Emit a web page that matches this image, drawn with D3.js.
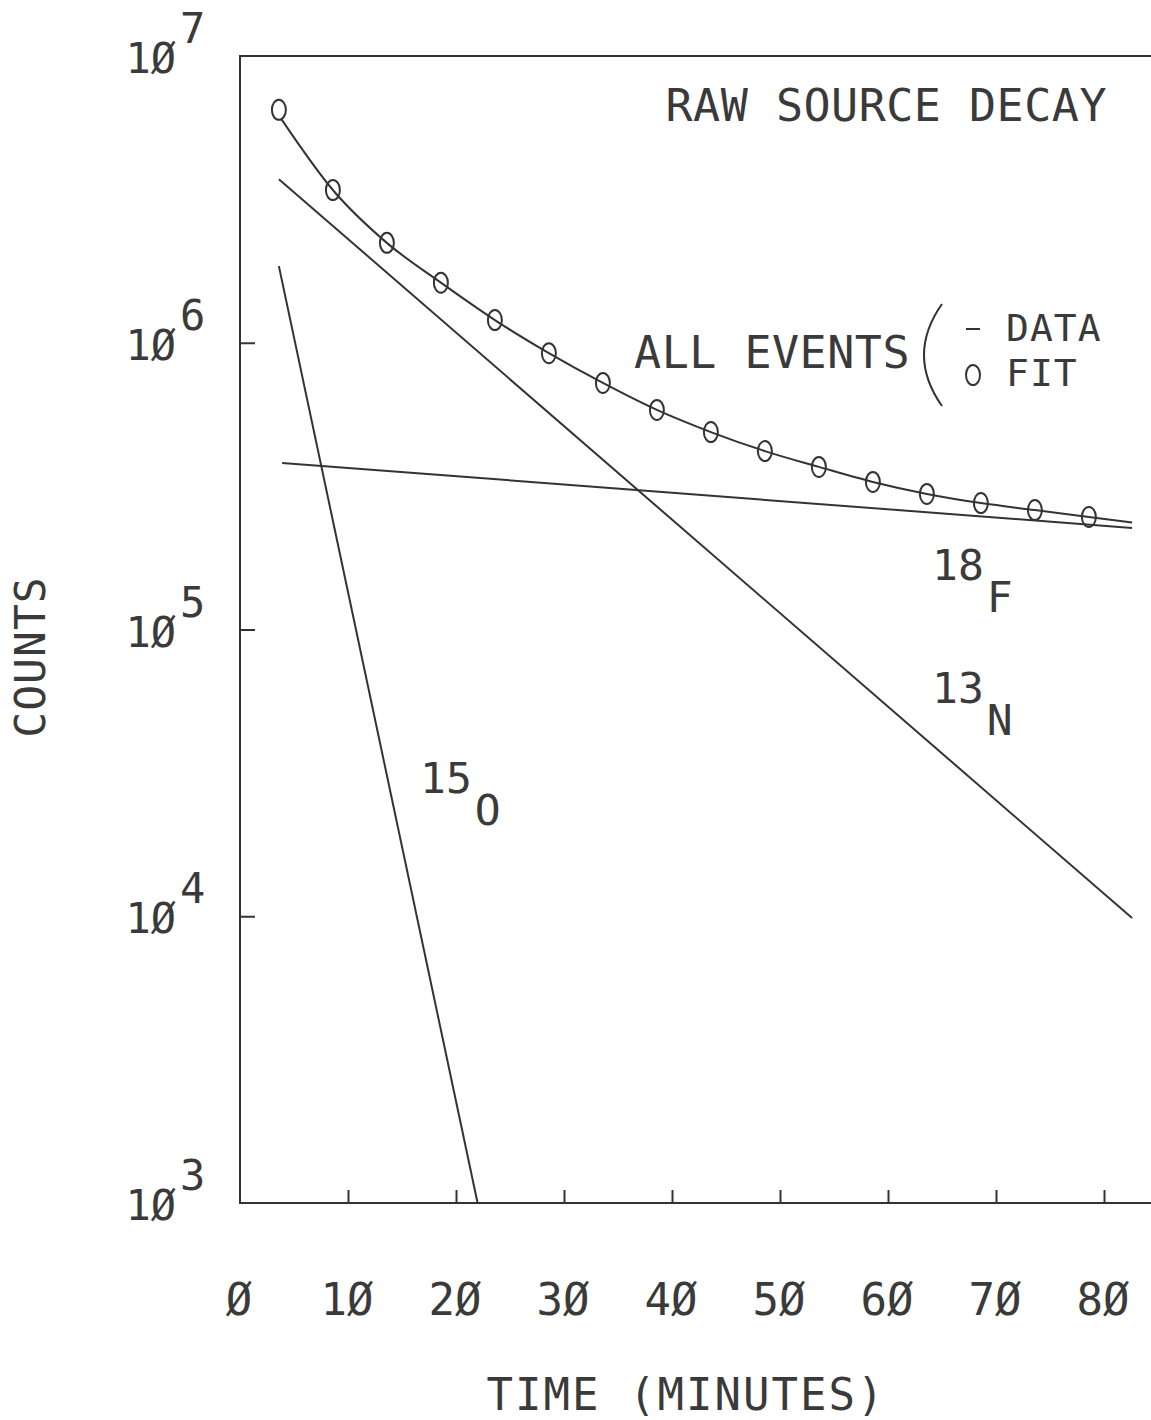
<!DOCTYPE html>
<html>
<head>
<meta charset="utf-8">
<script src="https://cdn.jsdelivr.net/npm/d3@7/dist/d3.min.js"></script>
<style>
  html, body { margin: 0; padding: 0; background: #fff; }
  svg text { font-family: "DejaVu Sans Mono", "Liberation Mono", monospace; fill: #3a3a3a; }
</style>
</head>
<body>
<svg id="chart" width="1151" height="1420"></svg>
<script>
// ---------- data ----------
const xTickValues = [0, 10, 20, 30, 40, 50, 60, 70, 80];
const xTickLabels = ["Ø", "1Ø", "2Ø", "3Ø", "4Ø", "5Ø", "6Ø", "7Ø", "8Ø"];
const yTickValues = [1e3, 1e4, 1e5, 1e6, 1e7];
const yTickExponents = ["3", "4", "5", "6", "7"];

// total counts, circles ("o FIT")
const fitTime   = [3.6, 8.6, 13.6, 18.6, 23.6, 28.6, 33.6, 38.6, 43.6, 48.6, 53.6, 58.6, 63.6, 68.6, 73.6, 78.6];
const fitCounts = [6.49e6, 3.41e6, 2.23e6, 1.62e6, 1.20e6, 9.2e5, 7.24e5, 5.83e5, 4.88e5, 4.19e5, 3.69e5, 3.27e5, 2.97e5, 2.76e5, 2.61e5, 2.47e5];

// total counts, line ("- DATA")
const dataTime   = [3.8, 8.6, 13.6, 18.6, 23.6, 28.6, 33.6, 38.6, 43.6, 48.6, 53.6, 58.6, 63.6, 68.6, 73.6, 78.6, 82.6];
const dataCounts = [6.05e6, 3.41e6, 2.23e6, 1.62e6, 1.20e6, 9.2e5, 7.24e5, 5.83e5, 4.88e5, 4.19e5, 3.69e5, 3.27e5, 2.97e5, 2.76e5, 2.61e5, 2.47e5, 2.36e5];

// component decays (straight lines on the log scale)
const o15Time = [3.6, 22.0];   const o15Counts = [1.85e6, 1.0e3];
const n13Time = [3.6, 82.6];   const n13Counts = [3.72e6, 9.86e3];
const f18Time = [3.9, 82.6];   const f18Counts = [3.81e5, 2.26e5];

// ---------- layout ----------
const svg = d3.select("#chart");
const M = { left: 240, right: 1104, top: 56, bottom: 1203, frameRight: 1151 };
const ink = "#333";

const x = d3.scaleLinear().domain([0, 80]).range([M.left, M.right]);
const y = d3.scaleLog().domain([1e3, 1e7]).range([M.bottom, M.top]);

// frame
const frame = svg.append("g").attr("fill", "none").attr("stroke", ink).attr("stroke-width", 2);
frame.append("path").attr("d", d3.line()([[M.frameRight, y(1e7)], [x(0), y(1e7)], [x(0), y(1e3)], [M.frameRight, y(1e3)]]));

// ticks via axes (inward)
const xAxis = svg.append("g").attr("transform", `translate(0,${M.bottom})`)
  .call(d3.axisBottom(x).tickValues(xTickValues.slice(1)).tickSize(-13).tickFormat(""));
const yAxis = svg.append("g").attr("transform", `translate(${M.left},0)`)
  .call(d3.axisLeft(y).tickValues([1e4, 1e5, 1e6]).tickSize(-15).tickFormat(""));
[xAxis, yAxis].forEach(a => {
  a.select(".domain").remove();
  a.selectAll(".tick line").attr("stroke", ink).attr("stroke-width", 2);
});

// x tick labels
svg.append("g").selectAll("text").data(xTickValues).join("text")
  .attr("x", (d) => x(d) - 1)
  .attr("y", 1315)
  .attr("text-anchor", "middle")
  .attr("font-size", 44)
  .text((d, i) => xTickLabels[i]);

// y tick labels 10^n
const yl = svg.append("g").selectAll("text").data(yTickValues).join("text")
  .attr("x", 176)
  .attr("y", (d) => y(d) + 17)
  .attr("font-size", 42);
yl.each(function(d, i) {
  const t = d3.select(this);
  t.append("tspan").attr("text-anchor", "end").text("1Ø");
  t.append("tspan").attr("x", 180).attr("dy", -30).text(yTickExponents[i]);
});

// axis titles
svg.append("text").attr("x", 686).attr("y", 1410).attr("text-anchor", "middle")
  .attr("font-size", 44).attr("letter-spacing", 2).text("TIME (MINUTES)");
svg.append("text").attr("transform", "translate(45,657) rotate(-90)").attr("text-anchor", "middle")
  .attr("font-size", 43).attr("letter-spacing", 1).text("COUNTS");

// ---------- marks ----------
const line = d3.line().x(d => x(d[0])).y(d => y(d[1]));
const marks = svg.append("g").attr("fill", "none").attr("stroke", ink).attr("stroke-width", 2);

marks.append("path").attr("d", line(d3.zip(o15Time, o15Counts)));
marks.append("path").attr("d", line(d3.zip(n13Time, n13Counts)));
marks.append("path").attr("d", line(d3.zip(f18Time, f18Counts)));
marks.append("path").attr("d", line.curve(d3.curveMonotoneX)(d3.zip(dataTime, dataCounts)));

marks.selectAll("ellipse").data(d3.zip(fitTime, fitCounts)).join("ellipse")
  .attr("cx", d => x(d[0])).attr("cy", d => y(d[1]))
  .attr("rx", 7).attr("ry", 10).attr("stroke-width", 2);

// ---------- annotations ----------
svg.append("text").attr("x", 1107).attr("y", 121).attr("text-anchor", "end")
  .attr("font-size", 45).attr("letter-spacing", 0.5).text("RAW SOURCE DECAY");

svg.append("text").attr("x", 910).attr("y", 368).attr("text-anchor", "end")
  .attr("font-size", 45).attr("letter-spacing", 0.5).text("ALL EVENTS");
svg.append("path").attr("fill", "none").attr("stroke", ink).attr("stroke-width", 2)
  .attr("d", "M942,304 Q906,355 942,406");
svg.append("line").attr("x1", 966).attr("x2", 980).attr("y1", 329).attr("y2", 329)
  .attr("stroke", ink).attr("stroke-width", 2);
svg.append("ellipse").attr("cx", 973).attr("cy", 375).attr("rx", 7).attr("ry", 10)
  .attr("fill", "none").attr("stroke", ink).attr("stroke-width", 2);
svg.append("text").attr("x", 1006).attr("y", 341).attr("font-size", 38).attr("letter-spacing", 1).text("DATA");
svg.append("text").attr("x", 1006).attr("y", 386).attr("font-size", 38).attr("letter-spacing", 1).text("FIT");

function isotope(xp, yp, mass, sym) {
  const t = svg.append("text").attr("x", xp).attr("y", yp).attr("font-size", 43);
  t.append("tspan").text(mass);
  t.append("tspan").attr("dx", 3).attr("dy", 32).text(sym);
}
isotope(420, 793, "15", "O");
isotope(932, 580, "18", "F");
isotope(932, 703, "13", "N");
</script>
</body>
</html>
